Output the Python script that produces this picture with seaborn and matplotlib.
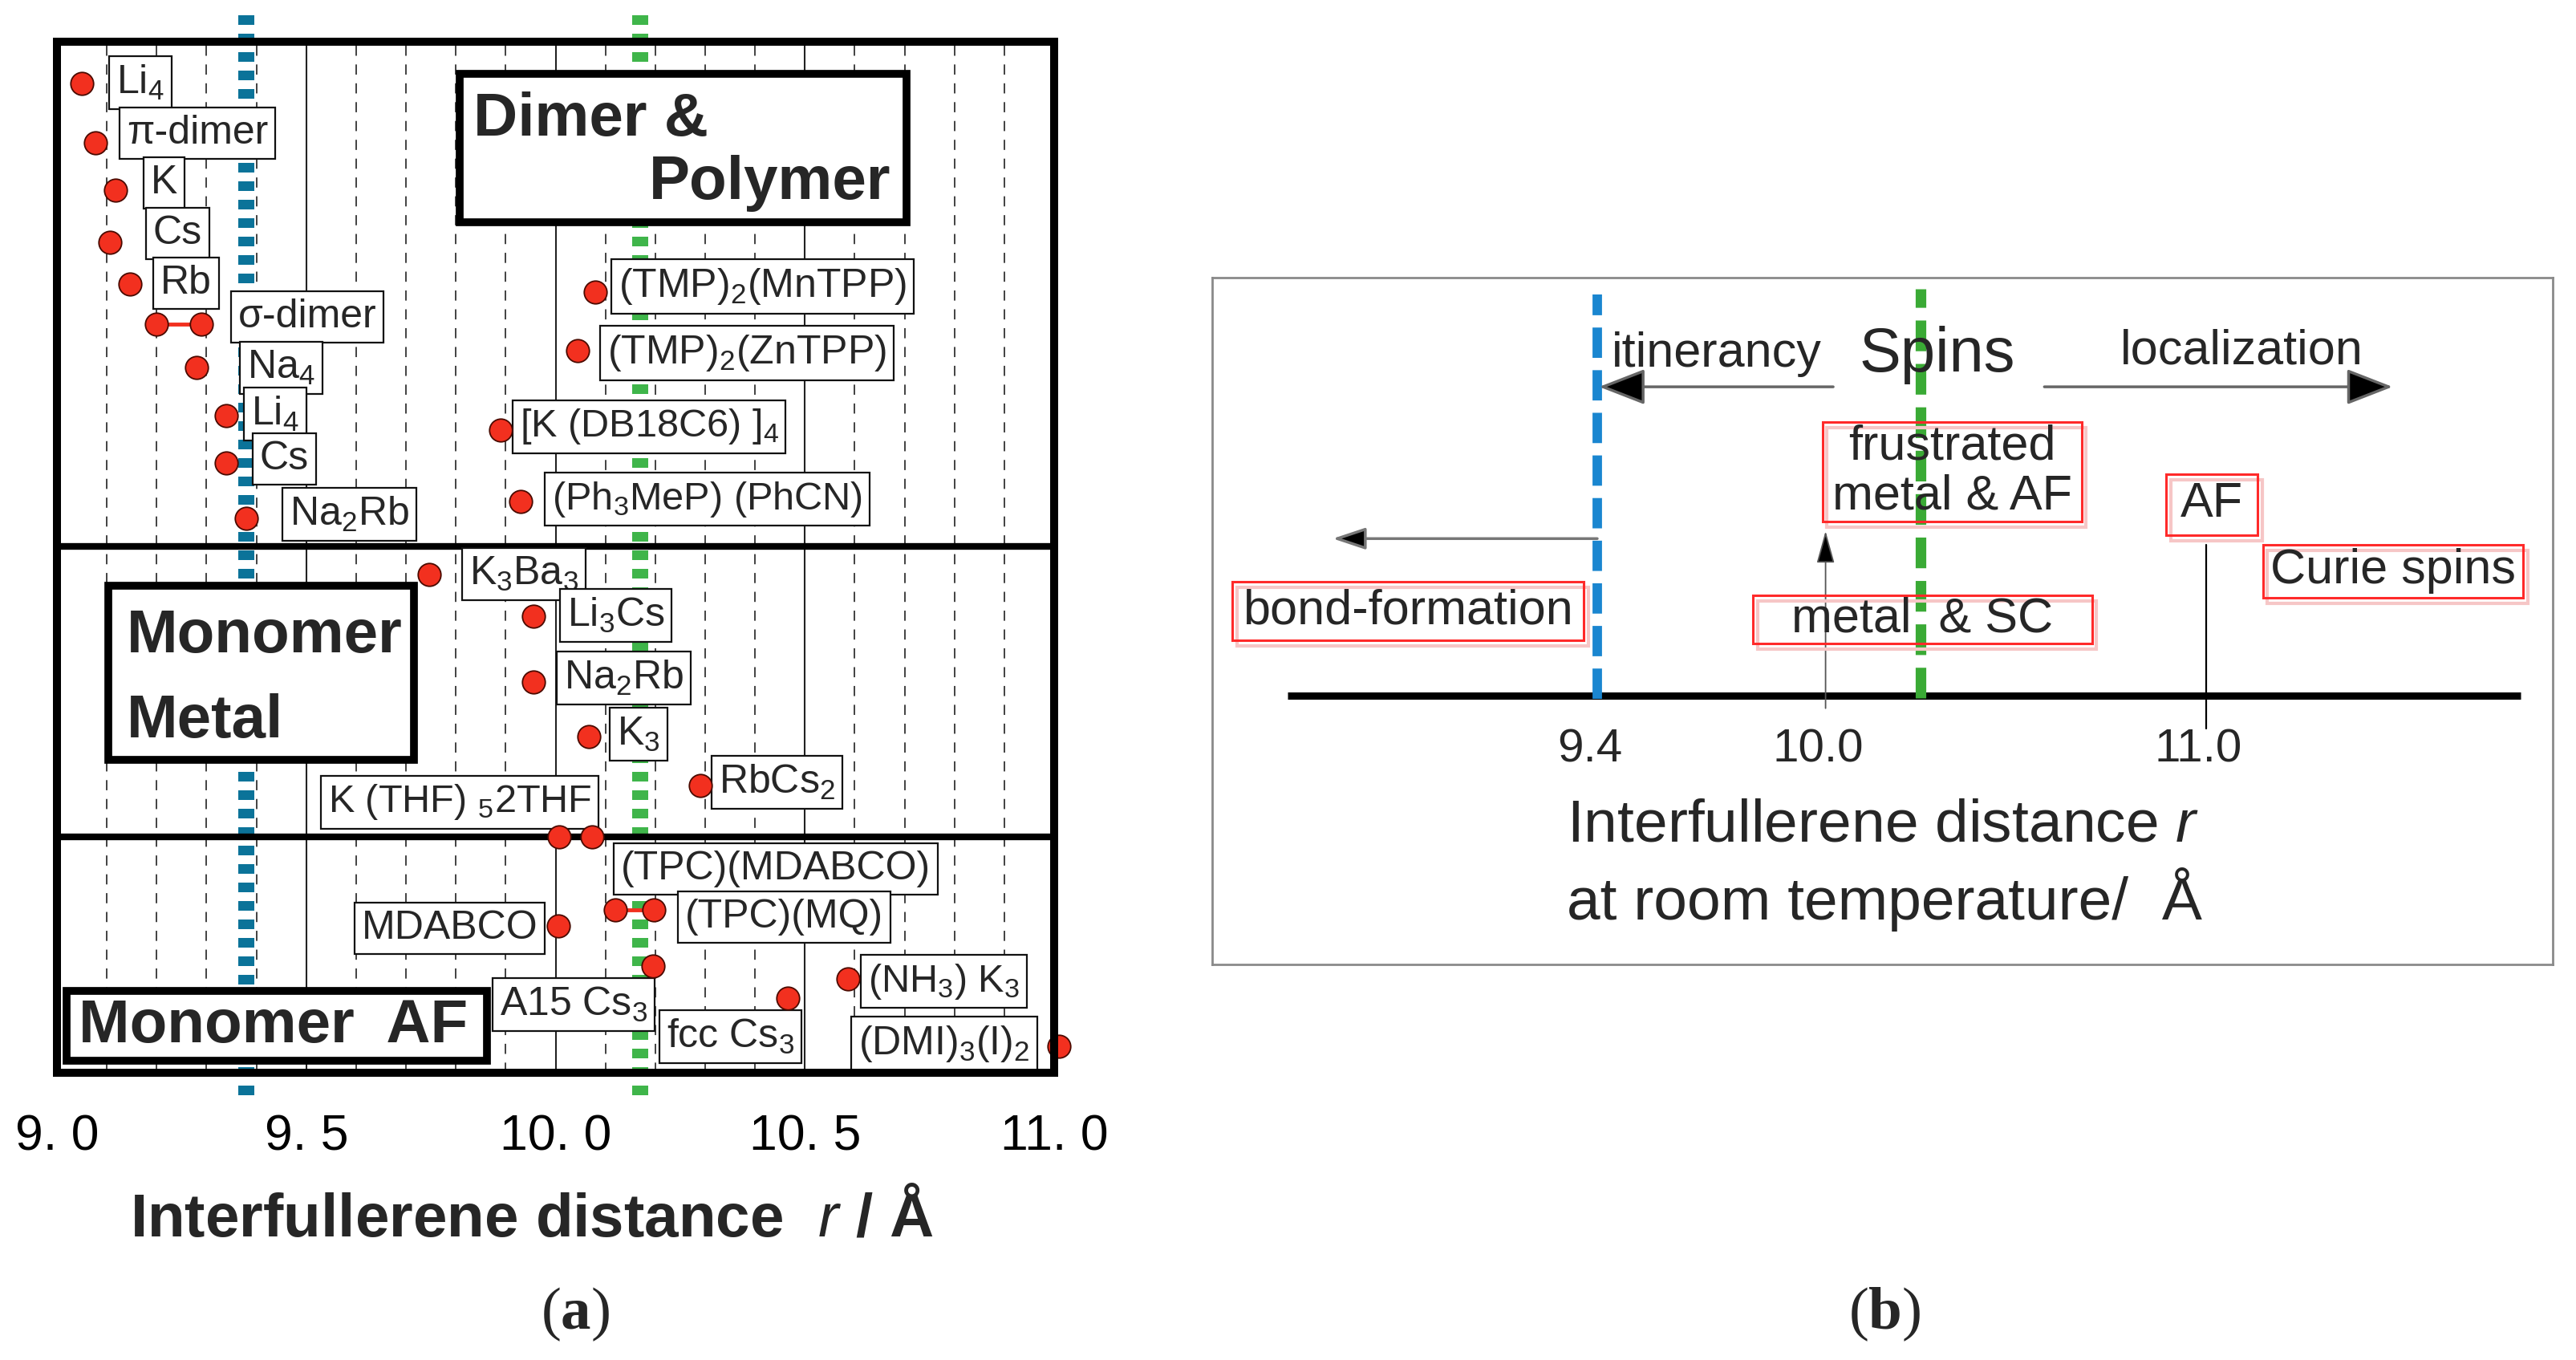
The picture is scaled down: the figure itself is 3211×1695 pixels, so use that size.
import numpy as np
import pandas as pd
import matplotlib
matplotlib.use("Agg")
import matplotlib.pyplot as plt
from matplotlib.patches import Rectangle
from matplotlib import font_manager
import seaborn as sns

# ------------------------------------------------------------------ data (a)
# interfullerene distance r (Å) of each compound and its vertical row (0-100)
point_r = [9.05, 9.077, 9.118, 9.106, 9.147, 9.20, 9.29, 9.28, 9.34, 9.34, 9.38,
           10.08, 10.045, 9.89, 9.93,
           9.747, 9.956, 9.956, 10.066, 10.29,
           10.008, 10.074, 10.12, 10.197, 10.006, 10.195, 10.466, 10.587, 11.01]
point_row = [95.95, 90.19, 85.60, 80.54, 76.50, 72.61, 72.61, 68.40, 63.74, 59.14, 53.77,
             75.72, 70.04, 62.33, 55.41,
             48.33, 44.28, 37.90, 32.61, 27.86,
             22.88, 22.88, 15.80, 15.80, 14.24, 10.35, 7.24, 9.11, 2.57]
# pairs joined by a red bar (σ-dimer, (TPC)(MQ))
pair_r = [[9.20, 9.29], [10.12, 10.197]]
pair_row = [72.61, 15.80]

label_text = ["Li$_4$", "π-dimer", "K", "Cs", "Rb", "σ-dimer", "Na$_4$", "Li$_4$", "Cs", "Na$_2$Rb",
              "(TMP)$_2$(MnTPP)", "(TMP)$_2$(ZnTPP)", "[K (DB18C6) ]$_4$", "(Ph$_3$MeP) (PhCN)",
              "K$_3$Ba$_3$", "Li$_3$Cs", "Na$_2$Rb", "K$_3$", "RbCs$_2$",
              "K (THF) $_5$2THF", "(TPC)(MDABCO)", "(TPC)(MQ)", "MDABCO", "A15 Cs$_3$", "fcc Cs$_3$",
              "(NH$_3$) K$_3$", "(DMI)$_3$(I)$_2$"]
label_narrow = [False] * 12 + [True, True] + [False] * 5 + [True] + [False] * 5 + [True, False]

# phase regions: boundaries between rows
region_dividers = [51.05, 22.88]
# critical distances (Å)
r_bond = 9.38
r_metal = 10.17

tick_values = [9.0, 9.5, 10.0, 10.5, 11.0]
tick_labels = ["9. 0", "9. 5", "10. 0", "10. 5", "11. 0"]

# ------------------------------------------------------------------ data (b)
b_r_bond = 9.4
b_r_metal = 10.25
b_r_frustr = 10.0
b_r_af = 11.0
b_ticks = [9.4, 10.0, 11.0]
b_ticklabels = ["9.4", "10.0", "11.0"]

# ------------------------------------------------------------------ layout
label_pos_x = [9.119, 9.140, 9.188, 9.193, 9.207, 9.363, 9.381, 9.389, 9.407, 9.467,
               10.126, 10.104, 9.928, 9.993,
               9.827, 10.023, 10.017, 10.123, 10.327,
               9.544, 10.131, 10.260, 9.611, 9.888, 10.223, 10.627, 10.608]
label_pos_y = [96.03, 91.13, 86.30, 81.40, 76.58, 73.31, 68.40, 63.89, 59.53, 54.16,
               76.26, 69.81, 62.65, 55.64,
               48.40, 44.36, 38.29, 32.84, 28.17,
               26.23, 19.77, 15.10, 14.01, 6.61, 3.50, 8.87, 2.80]

sns.set_theme(style="white")
plt.rcParams["font.family"] = ["Liberation Sans", "DejaVu Sans"]
plt.rcParams["mathtext.fontset"] = "custom"
plt.rcParams["mathtext.rm"] = "Liberation Sans"
plt.rcParams["mathtext.it"] = "Liberation Sans:italic"
plt.rcParams["mathtext.bf"] = "Liberation Serif:bold"

names = {f.name for f in font_manager.fontManager.ttflist}
NARROW = "Liberation Sans Narrow" if "Liberation Sans Narrow" in names else "Liberation Sans"
tick_fs = 52 if NARROW == "Liberation Sans Narrow" else 45

W, H = 3211, 1695
fig = plt.figure(figsize=(W / 100, H / 100), dpi=100)
fig.patch.set_facecolor("white")

RED = "#f2301f"
BLUE_A = "#0b7399"
GREEN_A = "#3fb54a"

# ================================================================= panel (a)
ax = fig.add_axes([71 / W, 1 - 1337 / H, 1243 / W, 1285 / H])
ax.set_xlim(9.0, 11.0)
ax.set_ylim(0, 100)

df = pd.DataFrame({"r": point_r, "row": point_row})
sns.scatterplot(data=df, x="r", y="row", ax=ax, s=420, color=RED,
                edgecolor="#4a0a00", linewidth=1.3, zorder=6, clip_on=False, legend=False)
for pr, prow in zip(pair_r, pair_row):
    ax.plot(pr, [prow, prow], color=RED, lw=3.5, zorder=5)

ax.set_xlabel("")
ax.set_ylabel("")
ax.set_yticks([])
ax.set_xticks(tick_values)
ax.set_xticklabels(tick_labels)
minor = [round(v, 1) for v in np.arange(9.1, 11.0, 0.1) if abs(v * 2 - round(v * 2)) > 1e-6]
ax.set_xticks(minor, minor=True)
ax.grid(which="major", axis="x", color="#222222", lw=1.5, ls="-")
ax.grid(which="minor", axis="x", color="#333333", lw=1.3, ls=(0, (7, 6)))
ax.set_axisbelow(True)
ax.tick_params(axis="x", which="major", direction="out", length=26, width=1.5,
               pad=10, labelsize=tick_fs, colors="black")
ax.tick_params(axis="x", which="minor", length=0)
for lab in ax.get_xticklabels():
    lab.set_fontfamily(NARROW)
mt = ax.xaxis.get_major_ticks()
for t in (mt[0], mt[-1]):
    t.tick1line.set_markeredgewidth(7.2)
    t.tick1line.set_markersize(20)
for s in ax.spines.values():
    s.set_linewidth(7.2)
    s.set_color("black")
    s.set_zorder(7)

for yd in region_dividers:
    ax.axhline(yd, color="black", lw=6, zorder=3)

for xr, col in ((r_bond, BLUE_A), (r_metal, GREEN_A)):
    ax.plot([xr, xr], [-2.2, 102.6], color=col, lw=14.4, ls=(0, (0.6, 0.55)),
            dash_capstyle="butt", clip_on=False, zorder=2)

for txt, lx, ly, nar in zip(label_text, label_pos_x, label_pos_y, label_narrow):
    ax.text(lx, ly, txt, ha="left", va="center", fontsize=36 if not nar else 35,
            family=NARROW if nar else "Liberation Sans",
            bbox=dict(boxstyle="square,pad=0.18", fc="white", ec="#111111", lw=1.6),
            zorder=4)

# phase-region title boxes
for (x0, x1, y0, y1) in [(9.808, 10.704, 82.49, 96.89),
                         (9.103, 9.716, 30.35, 47.24),
                         (9.019, 9.862, 1.17, 7.94)]:
    ax.add_patch(Rectangle((x0, y0), x1 - x0, y1 - y0, fc="white", ec="black",
                           lw=7, zorder=4.5))
ax.text(9.835, 92.4, "Dimer &", ha="left", va="center", fontsize=55, weight="bold", zorder=5)
ax.text(10.673, 86.3, "Polymer", ha="right", va="center", fontsize=55, weight="bold", zorder=5)
ax.text(9.140, 42.33, "Monomer", ha="left", va="center", fontsize=55, weight="bold", zorder=5)
ax.text(9.140, 34.01, "Metal", ha="left", va="center", fontsize=55, weight="bold", zorder=5)
ax.text(9.043, 4.51, "Monomer  AF", ha="left", va="center", fontsize=55, weight="bold", zorder=5)

fig.text(663 / W, 1 - 1520 / H, "Interfullerene distance  $r$ / Å", fontsize=55,
         weight="bold", ha="center", va="center")
fig.text(717 / W, 1 - 1638 / H, r"($\mathbf{a}$)", family="Liberation Serif",
         fontsize=54, ha="center", va="center")

# ================================================================= panel (b)
ax2 = fig.add_axes([1511 / W, 1 - 1202 / H, 1671 / W, 856 / H])
ax2.set_xlim(8.388, 11.911)
ax2.set_ylim(0, 1)
ax2.set_xticks([])
ax2.set_yticks([])
for s in ax2.spines.values():
    s.set_linewidth(2)
    s.set_color("#8a8a8a")

axis_y = 0.391
sns.lineplot(x=[8.586, 11.826], y=[axis_y, axis_y], ax=ax2, color="black", lw=6.5,
             zorder=3, legend=False)
ax2.lines[-1].set_solid_capstyle("butt")

ax2.plot([b_r_bond, b_r_bond], [0.387, 0.975], color="#1a86d0", lw=8.5,
         ls=(0, (3.2, 1.3)), dash_capstyle="butt", zorder=4)
ax2.plot([b_r_metal, b_r_metal], [0.388, 0.984], color="#3aaa35", lw=9.5,
         ls=(0, (2.9, 1.2)), dash_capstyle="butt", zorder=4)

ax2.text(9.438, 0.889, "itinerancy", ha="left", va="center", fontsize=44)
ax2.text(10.088, 0.887, "Spins", ha="left", va="center", fontsize=56, zorder=5)
ax2.text(10.775, 0.893, "localization", ha="left", va="center", fontsize=44)

arr = dict(arrowstyle="-|>,head_length=0.9,head_width=0.35", color="#666666", fc="black",
           lw=2.5, mutation_scale=40, shrinkA=0, shrinkB=0)
ax2.annotate("", xy=(9.405, 0.841), xytext=(10.02, 0.841), arrowprops=arr, zorder=5)
ax2.annotate("", xy=(11.49, 0.841), xytext=(10.575, 0.841), arrowprops=arr, zorder=5)
arr2 = dict(arrowstyle="-|>,head_length=0.9,head_width=0.3", color="#777777", fc="black",
            lw=2.5, mutation_scale=28, shrinkA=0, shrinkB=0)
ax2.annotate("", xy=(8.705, 0.620), xytext=(b_r_bond, 0.620), arrowprops=arr2, zorder=5)
arr3 = dict(arrowstyle="-|>,head_length=0.9,head_width=0.25", color="#555555", fc="black",
            lw=1.3, mutation_scale=28, shrinkA=0, shrinkB=0)
ax2.annotate("", xy=(b_r_frustr, 0.631), xytext=(b_r_frustr, 0.373), arrowprops=arr3, zorder=5)
ax2.plot([b_r_af, b_r_af], [0.343, 0.611], color="black", lw=1.6, zorder=5)

boxes_b = [(9.992, 10.673, 0.645, 0.790, "frustrated\nmetal & AF"),
           (10.895, 11.136, 0.625, 0.714, "AF"),
           (11.149, 11.834, 0.534, 0.611, "Curie spins"),
           (8.441, 9.364, 0.472, 0.557, "bond-formation"),
           (9.81, 10.70, 0.467, 0.537, "metal  & SC")]
for x0, x1, y0, y1, t in boxes_b:
    ax2.add_patch(Rectangle((x0 + 0.012, y0 - 0.008), x1 - x0, y1 - y0, fc="none",
                            ec="#f6c6c6", lw=3, zorder=5))
    ax2.add_patch(Rectangle((x0, y0), x1 - x0, y1 - y0, fc="none", ec="#ff2a2a",
                            lw=2.2, zorder=6))
    ax2.text((x0 + x1) / 2, (y0 + y1) / 2, t, ha="center", va="center", fontsize=44,
             linespacing=1.1, zorder=6)

for tv, tl in zip(b_ticks, b_ticklabels):
    ax2.text(tv - 0.02, 0.313, tl, ha="center", va="center", fontsize=42)

ax2.text(9.32, 0.202, "Interfullerene distance $r$", ha="left", va="center", fontsize=54)
ax2.text(9.32, 0.095, "at room temperature/  Å", ha="left", va="center", fontsize=54)

fig.text(2349 / W, 1 - 1638 / H, r"($\mathbf{b}$)", family="Liberation Serif",
         fontsize=54, ha="center", va="center")

fig.savefig("out.png", dpi=100, facecolor="white")
